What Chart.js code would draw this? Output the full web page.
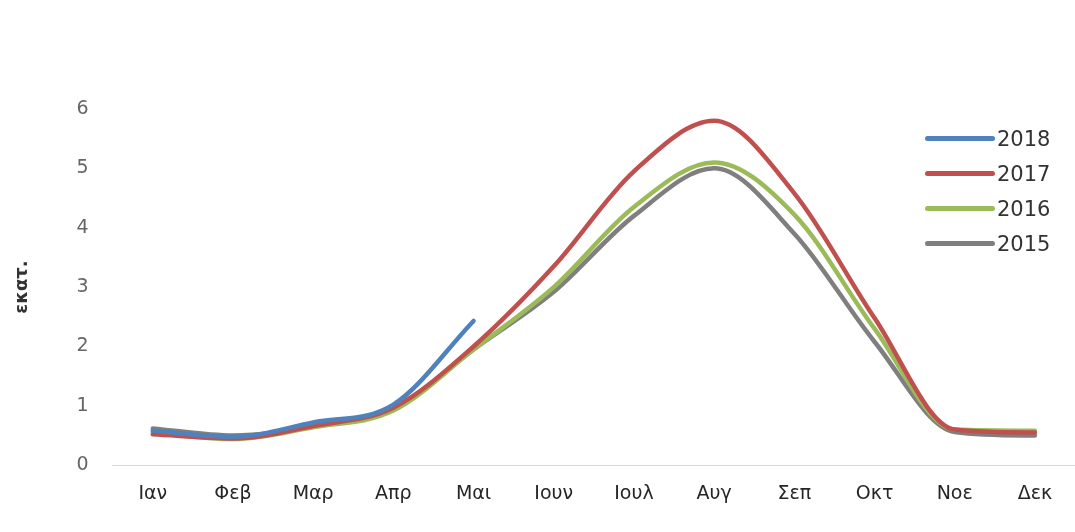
<!DOCTYPE html>
<html lang="el">
  <head>
    <meta charset="UTF-8" />
    <title>Μηνιαία στοιχεία</title>
    <script src="https://cdn.jsdelivr.net/npm/chart.js"></script>
    <style>
      html, body { margin: 0; padding: 0; background: #fff; }
      #wrap { position: relative; width: 1075px; height: 532px; }
      #legend {
        position: absolute; left: 925px; top: 121px;
        font-family: 'DejaVu Sans', sans-serif; font-size: 21px; color: #333;
      }
      .item { display: flex; align-items: center; height: 35px; }
      .swatch { width: 70px; height: 5px; border-radius: 3px; margin-right: 2px; }
    </style>
  </head>
  <body>
    <div id="wrap">
      <canvas id="chart" width="1075" height="532"></canvas>
      <div id="legend"></div>
    </div>

    <script>
      // months
      const months = ['Ιαν', 'Φεβ', 'Μαρ', 'Απρ', 'Μαι', 'Ιουν', 'Ιουλ', 'Αυγ', 'Σεπ', 'Οκτ', 'Νοε', 'Δεκ']

      // values per year (εκατ.)
      const y2018 = [0.58, 0.48, 0.72, 1.02, 2.43]
      const y2017 = [0.52, 0.45, 0.66, 0.97, 2.0, 3.35, 4.95, 5.8, 4.58, 2.48, 0.6, 0.55]
      const y2016 = [0.55, 0.44, 0.64, 0.92, 1.95, 3.0, 4.35, 5.1, 4.22, 2.3, 0.6, 0.58]
      const y2015 = [0.62, 0.5, 0.65, 0.95, 1.95, 2.92, 4.2, 5.0, 3.9, 2.08, 0.56, 0.5]

      const years = ['2018', '2017', '2016', '2015']
      const colors = ['#4F81BD', '#C0504D', '#9BBB59', '#7F7F7F']
      const series = [y2018, y2017, y2016, y2015]

      const font = "'DejaVu Sans', sans-serif"

      const ctx = document.getElementById('chart').getContext('2d')
      new Chart(ctx, {
        type: 'line',
        data: {
          labels: months,
          datasets: years.map((y, i) => ({
            label: y,
            data: series[i],
            borderColor: colors[i],
            backgroundColor: colors[i],
            borderWidth: 4.5,
            pointRadius: 0,
            cubicInterpolationMode: 'monotone',
            borderCapStyle: 'round',
            fill: false,
          })),
        },
        options: {
          responsive: false,
          animation: false,
          layout: { padding: { top: 109, bottom: 10, left: 0, right: 0 } },
          plugins: { legend: { display: false }, tooltip: { enabled: false } },
          scales: {
            x: {
              offset: true,
              grid: { display: false, drawTicks: false },
              border: { color: '#d9d9d9', width: 1 },
              ticks: {
                padding: 17,
                color: '#262626',
                font: { family: font, size: 19 },
              },
            },
            y: {
              min: 0,
              max: 6,
              grid: { display: false, drawTicks: false },
              border: { display: false },
              ticks: {
                stepSize: 1,
                padding: 24,
                color: '#666',
                font: { family: font, size: 19 },
              },
              title: {
                display: true,
                text: 'εκατ.',
                color: '#333',
                padding: { top: 12, bottom: 19 },
                font: { family: font, size: 18, weight: 'bold' },
              },
            },
          },
        },
      })

      // legend
      const legend = document.getElementById('legend')
      years.forEach((y, i) => {
        const row = document.createElement('div')
        row.className = 'item'
        row.innerHTML = '<span class="swatch" style="background:' + colors[i] + '"></span><span>' + y + '</span>'
        legend.appendChild(row)
      })
    </script>
  </body>
</html>
